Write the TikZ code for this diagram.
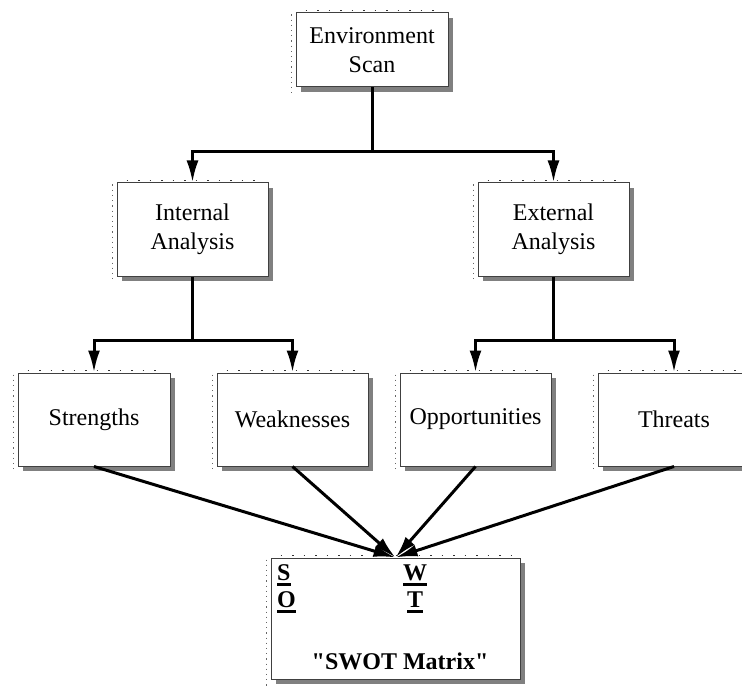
\documentclass[tikz,border=0pt]{standalone}
\usepackage{fontspec}
\setmainfont{Liberation Serif}[Ligatures=TeXOff]
\usetikzlibrary{arrows.meta,shadows}
\newcommand\ulbar[1]{\setbox0\hbox{#1}\rlap{\rule[-6pt]{\wd0}{3pt}}\box0}
\tikzset{
  box/.style={draw=black!75, line width=1pt, fill=white, align=center,
    font=\fontsize{24}{29}\selectfont, inner sep=0pt,
    drop shadow={shadow xshift=5pt, shadow yshift=-5pt, fill=black!50, opacity=1}},
  conn/.style={line width=3pt, black},
  arr/.style={conn, -{Latex[length=22pt,width=12pt]}},
  dotsl/.style={black!60, line width=1pt, dash pattern=on 1.2pt off 4pt},
  ticks/.style={black!80, line width=1.5pt, dash pattern=on 1.5pt off 10pt}
}
\begin{document}
\begin{tikzpicture}[x=1pt,y=-1pt]
\useasboundingbox (0,0) rectangle (742,690);
\clip (0,0) rectangle (742,690);
\node[box, minimum width=152pt, minimum height=74pt] (env) at (372,50) {Environment\\Scan};
\node[box, minimum width=151pt, minimum height=93pt] (int) at (192.5,229.5) {Internal\\Analysis};
\node[box, minimum width=151pt, minimum height=93pt] (ext) at (553.5,229.5) {External\\Analysis};
\node[box, minimum width=152pt, minimum height=93pt] (str) at (94,419.5) {Strengths};
\node[box, minimum width=151pt, minimum height=93pt] (weak) at (292.5,419.5) {Weaknesses};
\node[box, minimum width=151pt, minimum height=93pt] (opp) at (475.5,419.5) {Opportunities};
\node[box, minimum width=152pt, minimum height=93pt] (thr) at (674,419.5) {Threats};
\node[box, minimum width=249pt, minimum height=121pt] (swot) at (395.5,618.5) {};
% decorations of the boxes
\foreach \n in {env,int,ext,str,weak,opp,thr,swot}{
  \draw[dotsl] ([xshift=-4pt,yshift=-2pt]\n.north west) -- ([xshift=-4pt,yshift=-6pt]\n.south west);
  \draw[ticks] ([xshift=10pt,yshift=2pt]\n.north west) -- ([xshift=-6pt,yshift=2pt]\n.north east);
}
% texts of the matrix
\begin{scope}[every node/.style={font=\fontsize{24}{29}\selectfont\bfseries, inner sep=0pt}]
\node[anchor=base west] (s) at (277,580) {\ulbar{S}};
\node[anchor=base west] (o) at (277,607) {\ulbar{O}};
\node[anchor=base] (w) at (415,580) {\ulbar{W}};
\node[anchor=base] (t) at (415,607) {\ulbar{T}};
\node[anchor=base] (title) at (400,669) {"SWOT Matrix"};
\end{scope}
% connectors
\coordinate (f1) at (372,152);
\coordinate (f2) at (192.5,340);
\coordinate (f3) at (553.5,340);
\draw[conn] (env.south) -- (f1);
\draw[arr] (f1) -| (int.north);
\draw[arr] (f1) -| (ext.north);
\draw[conn] (int.south) -- (f2);
\draw[arr] (f2) -| (str.north);
\draw[arr] (f2) -| (weak.north);
\draw[conn] (ext.south) -- (f3);
\draw[arr] (f3) -| (opp.north);
\draw[arr] (f3) -| (thr.north);
\draw[arr] (str.south) -- (swot.north);
\draw[arr] (weak.south) -- (swot.north);
\draw[arr] (opp.south) -- (swot.north);
\draw[arr] (thr.south) -- (swot.north);
\end{tikzpicture}
\end{document}
